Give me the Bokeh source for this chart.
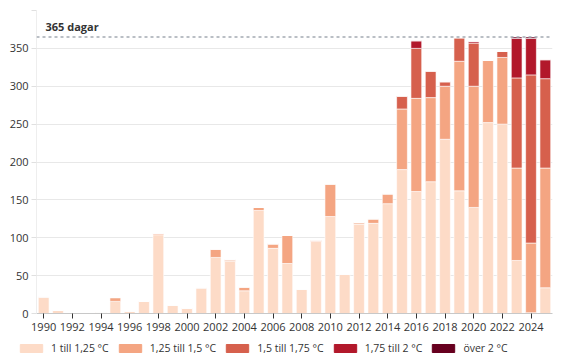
from bokeh.plotting import figure
from bokeh.models import ColumnDataSource, FixedTicker, Span, Legend, LegendItem, Label
from bokeh.layouts import column
from bokeh.embed import file_html
from bokeh.resources import INLINE

years = list(range(1990, 2026))
c1 = [22, 4, 0, 0, 2, 16, 3, 16, 104, 11, 7, 34, 74, 69, 30, 136, 86, 66, 32, 95, 128, 52, 118, 119,
      145, 190, 161, 174, 230, 162, 140, 252, 250, 70, 1, 34]
c2 = [0, 0, 0, 0, 0, 5, 0, 0, 2, 0, 0, 0, 11, 2, 5, 4, 6, 37, 0, 2, 43, 0, 2, 6,
      13, 80, 123, 111, 70, 171, 160, 82, 88, 122, 92, 158]
c3 = [0, 0, 0, 0, 0, 0, 0, 0, 0, 0, 0, 0, 0, 0, 0, 0, 0, 0, 0, 0, 0, 0, 0, 0,
      0, 17, 66, 35, 6, 31, 57, 0, 8, 119, 222, 118]
c4 = [0, 0, 0, 0, 0, 0, 0, 0, 0, 0, 0, 0, 0, 0, 0, 0, 0, 0, 0, 0, 0, 0, 0, 0,
      0, 0, 10, 0, 0, 0, 2, 0, 0, 52, 48, 25]
c5 = [0, 0, 0, 0, 0, 0, 0, 0, 0, 0, 0, 0, 0, 0, 0, 0, 0, 0, 0, 0, 0, 0, 0, 0,
      0, 0, 0, 0, 0, 0, 0, 0, 0, 2, 2, 0]
labels = ["1 till 1,25 °C", "1,25 till 1,5 °C", "1,5 till 1,75 °C", "1,75 till 2 °C", "över 2 °C"]
colors = ["#fddbc7", "#f4a582", "#d6604d", "#b2182b", "#67001f"]
keys = ["c1", "c2", "c3", "c4", "c5"]
x_ticks = list(range(1990, 2025, 2))
y_ticks = [0, 50, 100, 150, 200, 250, 300, 350, 400]
ref_days = 365

source = ColumnDataSource(dict(year=years, c1=c1, c2=c2, c3=c3, c4=c4, c5=c5))

FONT = "Open Sans"
p = figure(frame_width=516, frame_height=303, output_backend="svg", toolbar_location=None,
           x_range=(1989.5, 2025.5), y_range=(0, 400),
           min_border_left=36, min_border_right=4, min_border_top=10, min_border_bottom=0)
p.outline_line_color = None
p.background_fill_color = "white"

renderers = p.vbar_stack(keys, x="year", width=0.75, color=colors, source=source,
                         line_color="white", line_alpha=0.6, line_width=1)

p.xgrid.grid_line_color = None
p.ygrid.grid_line_color = "#e8e8e8"
p.ygrid.ticker = FixedTicker(ticks=y_ticks)

p.xaxis.ticker = FixedTicker(ticks=x_ticks)
p.xaxis.axis_line_color = "#c8c8c8"
p.xaxis.major_tick_line_color = "#333333"
p.xaxis.major_tick_out = 5
p.xaxis.major_tick_in = 0
p.xaxis.minor_tick_line_color = None
p.xaxis.major_label_text_font = FONT
p.xaxis.major_label_text_font_size = "11px"
p.xaxis.major_label_text_color = "#333333"
p.xaxis.major_label_standoff = 4

p.yaxis.ticker = FixedTicker(ticks=y_ticks)
p.yaxis.major_label_overrides = {400: ""}
p.yaxis.axis_line_color = "#eeeeee"
p.yaxis.major_tick_line_color = "#e0e0e0"
p.yaxis.major_tick_out = 5
p.yaxis.major_tick_in = 0
p.yaxis.minor_tick_line_color = None
p.yaxis.major_label_text_font = FONT
p.yaxis.major_label_text_font_size = "11px"
p.yaxis.major_label_text_color = "#333333"
p.yaxis.major_label_standoff = 3

span = Span(location=ref_days, dimension="width", line_color="#a4abb2",
            line_dash="3 3", line_width=1.5)
p.add_layout(span)
lab = Label(x=1989.5, y=ref_days, x_offset=9, y_offset=3, text="365 dagar",
            text_font=FONT, text_font_size="11px", text_font_style="bold",
            text_color="#333333")
p.add_layout(lab)

# legend strip below the chart
p2 = figure(width=556, height=24, output_backend="svg", toolbar_location=None,
            x_range=(0, 1), y_range=(0, 1), min_border=0,
            x_axis_location=None, y_axis_location=None)
try:
    p2.frame_align = False
except Exception:
    pass
p2.grid.visible = False
p2.outline_line_color = None
leg_renderers = [p2.vbar(x=[5.0], top=[0.0], bottom=[0.0], width=0.5, color=c) for c in colors]
items = [LegendItem(label=labels[i], renderers=[leg_renderers[i]]) for i in range(5)]
legend = Legend(items=items, orientation="horizontal", location=(17, 2),
                glyph_width=28, glyph_height=10, label_standoff=6, spacing=7,
                label_text_font=FONT, label_text_font_size="10.5px", label_text_color="#333333",
                padding=2, margin=0, border_line_color=None, background_fill_alpha=0,
                label_height=10)
p2.add_layout(legend)

layout = column(p, p2, spacing=0)
open("out.html", "w").write(file_html(layout, INLINE))
